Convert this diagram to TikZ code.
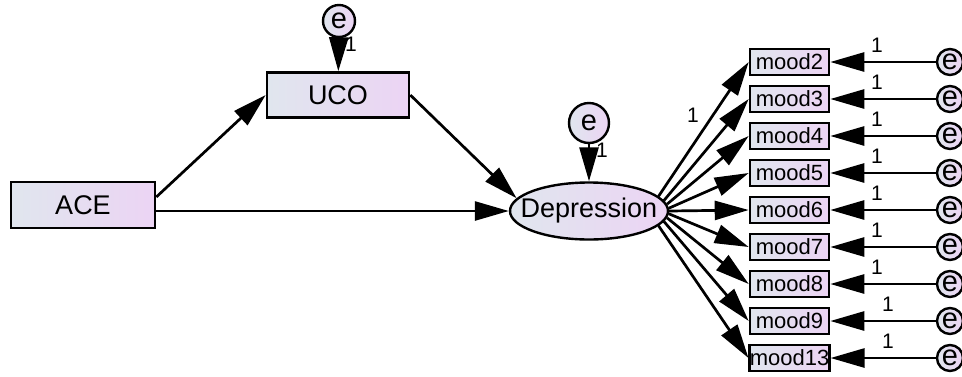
\documentclass[tikz,border=0pt]{standalone}
\usepackage{fontspec}
\setmainfont{Liberation Sans}
\usetikzlibrary{arrows.meta,shapes.geometric}
\definecolor{shadeL}{RGB}{224,230,238}
\definecolor{shadeR}{RGB}{236,212,244}
\tikzset{
  obsbox/.style={draw=black, line width=2.6pt, rectangle, inner sep=0pt,
    left color=shadeL, right color=shadeR},
  bigbox/.style={obsbox, minimum width=144pt, minimum height=46pt, font=\fontsize{27}{30}\selectfont},
  moodbox/.style={obsbox, minimum width=79pt, minimum height=26pt, font=\fontsize{22}{23}\selectfont},
  latent/.style={draw=black, line width=2.4pt, ellipse, inner sep=0pt,
    minimum width=158pt, minimum height=57pt,
    left color=shadeL, right color=shadeR},
  latlabel/.style={font=\fontsize{27}{30}\selectfont, inner sep=0pt},
  errc/.style={draw=black, line width=2.4pt, circle, inner sep=0pt,
    left color=shadeL, right color=shadeR, font=\fontsize{29}{30}\selectfont},
  arr/.style={-{Triangle[length=34pt,width=19pt]}, line width=2.7pt, black},
  wt/.style={font=\fontsize{21}{23}\selectfont, inner sep=0pt}
}
\begin{document}
\begin{tikzpicture}[x=1pt, y=-1pt]
\useasboundingbox (0,0) rectangle (962,376);
\clip (0,0) rectangle (962,376);
\fill[white] (0,0) rectangle (962,376);

% exogenous, mediator and latent variable
\node[bigbox] (ace) at (83,205) {ACE};
\node[bigbox, minimum width=142pt, minimum height=45pt] (uco) at (338,95) {UCO};
\node[latent] (dep) at (589,211) {};
\node[latlabel] (deptext) at (dep.center) {Depression};

% disturbance terms
\node[errc, minimum size=32pt] (eu) at (339,21) {e};
\node[errc, minimum size=40pt] (ed) at (589,123) {e};

\draw[arr] (eu) -- (uco);
\draw[arr] (ed) -- (dep);
\node[wt] at (351,44) {1};
\node[wt] at (602,150) {1};

% structural paths
\draw[arr] ([yshift=8pt]ace.east) -- (uco.west);
\draw[arr] (uco.east) -- (dep.170);
\draw[arr] (ace.east |- dep.west) -- (dep.west);

% indicators with their error terms; loadings leave the right tip of the ellipse
\foreach \name/\yy/\lx/\ang in {2/62/877/12.7, 3/99/877/8.85, 4/136/877/5.6,
                                5/173/877/2.7, 6/210/877/0, 7/247/877/-2.7,
                                8/284/877/-5.6, 9/321/888/-8.85, 13/358/888/-12.7} {
  \node[moodbox] (m\name) at (789.5,\yy) {mood\name};
  \node[errc, minimum size=26pt] (e\name) at (950,\yy) {e};
  \draw[arr] (dep.\ang) -- (m\name.west);
  \draw[arr] (e\name) -- (m\name);
  \node[wt] at (\lx,\yy-17) {1};
}
\node[wt] at (693,115) {1};
\end{tikzpicture}
\end{document}
